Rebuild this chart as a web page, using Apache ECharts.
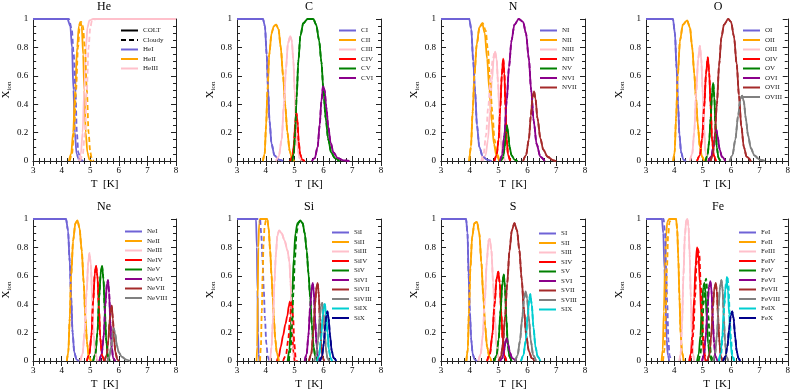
<!DOCTYPE html>
<html>
<head>
<meta charset="utf-8">
<script src="https://cdn.jsdelivr.net/npm/echarts@6/dist/echarts.min.js"></script>
<style>
  html, body { margin: 0; padding: 0; background: #fff; }
  #main { width: 793px; height: 391px; }
</style>
</head>
<body>
<div id="main"></div>
<script>
// 面板 / 离子名称
var elements = ['He', 'C', 'N', 'O', 'Ne', 'Si', 'S', 'Fe'];
var ionNames = [
    ['HeI', 'HeII', 'HeIII'],
    ['CI', 'CII', 'CIII', 'CIV', 'CV', 'CVI'],
    ['NI', 'NII', 'NIII', 'NIV', 'NV', 'NVI', 'NVII'],
    ['OI', 'OII', 'OIII', 'OIV', 'OV', 'OVI', 'OVII', 'OVIII'],
    ['NeI', 'NeII', 'NeIII', 'NeIV', 'NeV', 'NeVI', 'NeVII', 'NeVIII'],
    ['SiI', 'SiII', 'SiIII', 'SiIV', 'SiV', 'SiVI', 'SiVII', 'SiVIII', 'SiIX', 'SiX'],
    ['SI', 'SII', 'SIII', 'SIV', 'SV', 'SVI', 'SVII', 'SVIII', 'SIX'],
    ['FeI', 'FeII', 'FeIII', 'FeIV', 'FeV', 'FeVI', 'FeVII', 'FeVIII', 'FeIX', 'FeX']
];
var ionColors = ['#6f63d6', '#ffa500', '#ffc0cb', '#ff0000', '#008000', '#8b008b', '#a52a2a', '#808080', '#00ced1', '#00008b'];
var xTicks = [3, 4, 5, 6, 7, 8];
var yTicks = [0, 0.2, 0.4, 0.6, 0.8, 1];

// He  [log T, X_ion]
var heColt = [
    [[3,1],[4.2,1],[4.3,0.95],[4.36,0.8],[4.41,0.5],[4.46,0.2],[4.52,0.05],[4.6,0.01],[4.7,0]],
    [[4.25,0],[4.33,0.05],[4.4,0.2],[4.47,0.5],[4.54,0.8],[4.6,0.95],[4.65,0.98],[4.7,0.95],[4.75,0.75],[4.79,0.5],[4.84,0.2],[4.9,0.06],[4.97,0.01],[5.05,0]],
    [[4.6,0],[4.67,0.05],[4.73,0.2],[4.79,0.5],[4.85,0.8],[4.9,0.94],[4.97,0.99],[5.1,1],[8,1]]
];
var heCloudy = [
    [[3,1],[4.25,1],[4.35,0.93],[4.42,0.75],[4.48,0.5],[4.53,0.2],[4.58,0.06],[4.66,0.01],[4.75,0]],
    [[4.28,0],[4.36,0.05],[4.43,0.2],[4.5,0.5],[4.57,0.8],[4.63,0.95],[4.68,0.98],[4.74,0.95],[4.81,0.8],[4.88,0.5],[4.94,0.2],[5.0,0.06],[5.06,0.01],[5.12,0]],
    [[4.65,0],[4.74,0.05],[4.81,0.2],[4.88,0.5],[4.94,0.8],[5.0,0.94],[5.06,0.99],[5.2,1],[8,1]]
];

// C
var cColt = [
    [[3,1],[3.9,1],[3.97,0.95],[4.03,0.75],[4.08,0.5],[4.13,0.28],[4.2,0.12],[4.3,0.04],[4.45,0.01],[4.6,0]],
    [[3.9,0],[3.96,0.05],[4.01,0.25],[4.06,0.5],[4.12,0.75],[4.2,0.9],[4.28,0.95],[4.36,0.96],[4.44,0.93],[4.52,0.8],[4.6,0.6],[4.67,0.4],[4.75,0.2],[4.83,0.07],[4.92,0.01],[5.0,0]],
    [[4.35,0],[4.45,0.03],[4.55,0.15],[4.63,0.4],[4.7,0.65],[4.77,0.83],[4.85,0.88],[4.9,0.85],[4.96,0.7],[5.0,0.5],[5.05,0.28],[5.1,0.1],[5.17,0.02],[5.25,0]],
    [[4.85,0],[4.93,0.03],[4.98,0.12],[5.02,0.26],[5.06,0.34],[5.1,0.28],[5.14,0.14],[5.19,0.05],[5.26,0.01],[5.35,0]],
    [[4.92,0],[4.97,0.05],[5.02,0.2],[5.07,0.45],[5.13,0.7],[5.2,0.88],[5.3,0.97],[5.45,1],[5.65,1],[5.75,0.96],[5.85,0.85],[5.93,0.7],[6.0,0.5],[6.08,0.3],[6.17,0.15],[6.27,0.06],[6.4,0.02],[6.55,0]],
    [[5.6,0],[5.7,0.02],[5.8,0.1],[5.87,0.25],[5.93,0.42],[5.99,0.53],[6.04,0.5],[6.1,0.38],[6.17,0.24],[6.25,0.13],[6.35,0.06],[6.5,0.02],[6.7,0.005],[6.9,0]]
];
var cCloudy = cColt;

// N
var nColt = [
    [[3,1],[3.98,1],[4.05,0.93],[4.12,0.7],[4.18,0.5],[4.25,0.25],[4.33,0.1],[4.45,0.03],[4.6,0.01],[4.75,0]],
    [[3.98,0],[4.04,0.1],[4.1,0.35],[4.16,0.6],[4.24,0.82],[4.33,0.94],[4.43,0.97],[4.52,0.9],[4.6,0.72],[4.68,0.5],[4.76,0.28],[4.84,0.12],[4.92,0.04],[5.02,0]],
    [[4.45,0],[4.55,0.04],[4.63,0.15],[4.7,0.35],[4.77,0.57],[4.83,0.72],[4.88,0.77],[4.93,0.72],[4.98,0.55],[5.03,0.33],[5.08,0.14],[5.14,0.04],[5.22,0]],
    [[4.85,0],[4.93,0.04],[5.0,0.15],[5.06,0.38],[5.11,0.6],[5.16,0.72],[5.2,0.62],[5.24,0.38],[5.28,0.15],[5.33,0.04],[5.4,0]],
    [[5.08,0],[5.15,0.02],[5.2,0.08],[5.25,0.2],[5.29,0.25],[5.33,0.2],[5.38,0.1],[5.45,0.04],[5.55,0.01],[5.65,0]],
    [[5.05,0],[5.12,0.04],[5.2,0.18],[5.28,0.42],[5.36,0.66],[5.45,0.85],[5.55,0.96],[5.7,1],[5.85,0.98],[5.95,0.9],[6.05,0.72],[6.13,0.5],[6.22,0.28],[6.32,0.12],[6.45,0.03],[6.6,0]],
    [[5.85,0],[5.95,0.04],[6.05,0.15],[6.12,0.32],[6.18,0.45],[6.23,0.49],[6.28,0.44],[6.35,0.3],[6.45,0.16],[6.55,0.08],[6.7,0.03],[6.9,0.005],[7.0,0]]
];
var nCloudy = [
    nColt[0],
    [[3.98,0],[4.04,0.1],[4.1,0.35],[4.16,0.6],[4.24,0.82],[4.34,0.94],[4.45,0.97],[4.55,0.92],[4.63,0.78],[4.7,0.58],[4.78,0.35],[4.86,0.15],[4.94,0.05],[5.04,0]],
    [[4.4,0],[4.48,0.05],[4.56,0.18],[4.64,0.38],[4.72,0.58],[4.8,0.72],[4.87,0.77],[4.93,0.72],[4.98,0.55],[5.03,0.33],[5.08,0.14],[5.14,0.04],[5.22,0]],
    nColt[3], nColt[4], nColt[5], nColt[6]
];

// O
var oColt = [
    [[3,1],[3.95,1],[4.02,0.9],[4.08,0.65],[4.13,0.4],[4.18,0.18],[4.24,0.06],[4.32,0.01],[4.4,0]],
    [[3.96,0],[4.01,0.06],[4.06,0.3],[4.12,0.6],[4.2,0.85],[4.3,0.96],[4.45,0.99],[4.55,0.94],[4.63,0.8],[4.7,0.62],[4.76,0.45],[4.83,0.25],[4.9,0.1],[4.98,0.03],[5.05,0]],
    [[4.55,0],[4.63,0.05],[4.7,0.2],[4.77,0.48],[4.84,0.72],[4.9,0.81],[4.95,0.72],[5.0,0.48],[5.05,0.22],[5.1,0.06],[5.18,0]],
    [[4.8,0],[4.9,0.04],[4.98,0.16],[5.05,0.38],[5.12,0.62],[5.18,0.73],[5.23,0.62],[5.28,0.38],[5.33,0.15],[5.39,0.04],[5.47,0]],
    [[5.1,0],[5.17,0.04],[5.23,0.14],[5.28,0.3],[5.33,0.48],[5.37,0.55],[5.41,0.45],[5.45,0.25],[5.5,0.09],[5.56,0.02],[5.62,0]],
    [[5.2,0],[5.3,0.03],[5.38,0.1],[5.44,0.19],[5.48,0.22],[5.53,0.17],[5.6,0.08],[5.68,0.03],[5.8,0]],
    [[5.28,0],[5.35,0.04],[5.42,0.15],[5.5,0.4],[5.58,0.68],[5.66,0.87],[5.75,0.96],[5.9,1],[6.0,0.98],[6.1,0.88],[6.2,0.68],[6.28,0.46],[6.36,0.25],[6.45,0.1],[6.55,0.03],[6.7,0]],
    [[5.95,0],[6.05,0.04],[6.15,0.15],[6.25,0.32],[6.33,0.44],[6.39,0.46],[6.45,0.42],[6.52,0.3],[6.6,0.18],[6.7,0.09],[6.82,0.04],[7.0,0.01],[7.2,0]]
];
var oCloudy = oColt;

// Ne
var neColt = [
    [[3,1],[4.15,1],[4.22,0.92],[4.28,0.7],[4.33,0.45],[4.38,0.2],[4.44,0.06],[4.52,0.01],[4.6,0]],
    [[4.18,0],[4.23,0.06],[4.28,0.3],[4.33,0.6],[4.4,0.85],[4.48,0.97],[4.55,0.99],[4.62,0.94],[4.7,0.78],[4.77,0.55],[4.83,0.3],[4.89,0.12],[4.95,0.03],[5.02,0]],
    [[4.65,0],[4.73,0.05],[4.8,0.2],[4.87,0.48],[4.93,0.7],[4.97,0.76],[5.02,0.68],[5.07,0.42],[5.12,0.18],[5.18,0.05],[5.25,0]],
    [[4.88,0],[4.97,0.05],[5.04,0.18],[5.1,0.42],[5.16,0.62],[5.2,0.67],[5.25,0.6],[5.3,0.38],[5.35,0.16],[5.41,0.04],[5.48,0]],
    [[5.1,0],[5.18,0.05],[5.25,0.2],[5.31,0.45],[5.37,0.63],[5.41,0.67],[5.46,0.58],[5.51,0.35],[5.56,0.14],[5.62,0.03],[5.68,0]],
    [[5.32,0],[5.4,0.05],[5.47,0.18],[5.53,0.4],[5.58,0.54],[5.62,0.57],[5.66,0.48],[5.7,0.28],[5.75,0.1],[5.8,0.02],[5.87,0]],
    [[5.5,0],[5.57,0.04],[5.63,0.14],[5.68,0.29],[5.72,0.38],[5.75,0.39],[5.79,0.3],[5.83,0.16],[5.88,0.06],[5.95,0.01],[6.0,0]],
    [[5.6,0],[5.67,0.03],[5.73,0.1],[5.78,0.19],[5.82,0.23],[5.87,0.19],[5.93,0.11],[6.0,0.06],[6.1,0.03],[6.25,0.01],[6.4,0]]
];
var neCloudy = neColt;

// Si
var siColt = [
    [[3,1],[3.66,1],[3.69,0.8],[3.71,0.5],[3.73,0.2],[3.75,0.05],[3.78,0]],
    [[3.68,0],[3.7,0.1],[3.72,0.45],[3.74,0.8],[3.77,0.97],[3.8,1],[4.05,1],[4.1,0.93],[4.15,0.78],[4.2,0.6],[4.24,0.45],[4.28,0.3],[4.33,0.15],[4.38,0.06],[4.45,0]],
    [[4.15,0],[4.2,0.1],[4.25,0.3],[4.3,0.55],[4.35,0.75],[4.4,0.88],[4.46,0.92],[4.55,0.9],[4.65,0.85],[4.75,0.78],[4.82,0.7],[4.86,0.55],[4.9,0.3],[4.94,0.1],[4.98,0.02],[5.02,0]],
    [[4.38,0],[4.45,0.03],[4.52,0.1],[4.6,0.18],[4.68,0.26],[4.75,0.32],[4.8,0.39],[4.84,0.42],[4.88,0.36],[4.92,0.2],[4.96,0.06],[5.0,0]],
    [[4.76,0],[4.82,0.08],[4.87,0.25],[4.92,0.48],[4.97,0.72],[5.03,0.9],[5.1,0.97],[5.2,0.99],[5.28,0.97],[5.35,0.9],[5.42,0.78],[5.48,0.62],[5.54,0.45],[5.6,0.25],[5.66,0.1],[5.72,0.03],[5.8,0]],
    [[5.35,0],[5.42,0.05],[5.48,0.18],[5.54,0.38],[5.6,0.52],[5.63,0.55],[5.67,0.48],[5.71,0.3],[5.76,0.12],[5.81,0.03],[5.87,0]],
    [[5.5,0],[5.58,0.05],[5.65,0.2],[5.71,0.4],[5.76,0.52],[5.8,0.55],[5.84,0.47],[5.88,0.28],[5.93,0.1],[5.98,0.02],[6.03,0]],
    [[5.68,0],[5.75,0.04],[5.81,0.14],[5.87,0.3],[5.92,0.39],[5.96,0.41],[6.0,0.35],[6.04,0.21],[6.09,0.08],[6.14,0.02],[6.2,0]],
    [[5.78,0],[5.85,0.04],[5.91,0.14],[5.97,0.3],[6.02,0.39],[6.05,0.4],[6.09,0.34],[6.14,0.2],[6.19,0.08],[6.25,0.02],[6.3,0]],
    [[5.88,0],[5.95,0.03],[6.01,0.12],[6.07,0.26],[6.11,0.33],[6.14,0.35],[6.18,0.3],[6.23,0.18],[6.29,0.07],[6.36,0.02],[6.45,0]]
];
var siCloudy = [
    [[3,1],[3.8,1],[3.84,0.9],[3.89,0.7],[3.93,0.5],[3.97,0.3],[4.02,0.12],[4.07,0.03],[4.12,0]],
    [[3.8,0],[3.83,0.1],[3.86,0.35],[3.89,0.6],[3.92,0.82],[3.96,0.95],[4.0,0.99],[4.05,1],[4.1,0.93],[4.15,0.78],[4.2,0.6],[4.24,0.45],[4.28,0.3],[4.33,0.15],[4.38,0.06],[4.45,0]],
    siColt[2],
    [[4.6,0],[4.7,0.04],[4.78,0.15],[4.84,0.3],[4.88,0.4],[4.91,0.42],[4.95,0.3],[4.99,0.12],[5.04,0.02],[5.08,0]],
    [[4.8,0],[4.86,0.08],[4.91,0.25],[4.96,0.48],[5.01,0.72],[5.07,0.9],[5.13,0.97],[5.22,0.99],[5.28,0.97],[5.35,0.9],[5.42,0.78],[5.48,0.62],[5.54,0.45],[5.6,0.25],[5.66,0.1],[5.72,0.03],[5.8,0]],
    siColt[5], siColt[6], siColt[7], siColt[8], siColt[9]
];

// S
var sColt = [
    [[3,1],[3.87,1],[3.92,0.9],[3.96,0.6],[4.0,0.35],[4.05,0.15],[4.1,0.05],[4.17,0.01],[4.25,0]],
    [[3.88,0],[3.93,0.08],[3.97,0.35],[4.02,0.65],[4.08,0.87],[4.16,0.97],[4.25,0.98],[4.33,0.9],[4.4,0.7],[4.47,0.45],[4.53,0.25],[4.6,0.1],[4.68,0.03],[4.75,0]],
    [[4.3,0],[4.38,0.05],[4.45,0.18],[4.52,0.42],[4.59,0.7],[4.65,0.85],[4.69,0.86],[4.75,0.78],[4.81,0.55],[4.87,0.3],[4.93,0.1],[5.0,0.02],[5.05,0]],
    [[4.6,0],[4.7,0.05],[4.78,0.18],[4.86,0.4],[4.93,0.58],[4.99,0.63],[5.04,0.55],[5.09,0.35],[5.14,0.15],[5.2,0.04],[5.27,0]],
    [[4.85,0],[4.93,0.04],[5.0,0.15],[5.07,0.36],[5.13,0.55],[5.18,0.61],[5.22,0.52],[5.27,0.3],[5.32,0.11],[5.38,0.03],[5.45,0]],
    [[5.05,0],[5.13,0.02],[5.19,0.07],[5.24,0.14],[5.28,0.16],[5.33,0.12],[5.39,0.06],[5.47,0.02],[5.6,0]],
    [[5.0,0],[5.08,0.03],[5.15,0.12],[5.22,0.3],[5.3,0.55],[5.38,0.78],[5.46,0.92],[5.55,0.97],[5.64,0.92],[5.72,0.78],[5.8,0.58],[5.88,0.36],[5.96,0.18],[6.05,0.07],[6.15,0.02],[6.25,0]],
    [[5.58,0],[5.66,0.04],[5.74,0.14],[5.82,0.3],[5.88,0.44],[5.94,0.49],[5.99,0.44],[6.05,0.3],[6.12,0.14],[6.2,0.04],[6.3,0]],
    [[5.78,0],[5.86,0.04],[5.94,0.14],[6.01,0.32],[6.06,0.43],[6.1,0.47],[6.15,0.4],[6.21,0.24],[6.28,0.1],[6.36,0.03],[6.45,0]]
];
var sCloudy = sColt;

// Fe
var feColt = [
    [[3,1],[3.56,1],[3.61,0.9],[3.65,0.65],[3.69,0.4],[3.73,0.15],[3.77,0.04],[3.82,0]],
    [[3.55,0],[3.59,0.08],[3.63,0.35],[3.67,0.65],[3.71,0.88],[3.75,0.98],[3.82,1],[4.06,1],[4.1,0.93],[4.14,0.72],[4.18,0.45],[4.22,0.2],[4.27,0.06],[4.33,0]],
    [[4.18,0],[4.22,0.05],[4.27,0.25],[4.32,0.6],[4.37,0.88],[4.42,0.99],[4.46,1],[4.5,0.95],[4.54,0.75],[4.58,0.45],[4.62,0.18],[4.66,0.05],[4.7,0]],
    [[4.52,0],[4.58,0.05],[4.64,0.2],[4.7,0.45],[4.75,0.68],[4.8,0.8],[4.85,0.75],[4.9,0.55],[4.95,0.32],[5.0,0.14],[5.05,0.04],[5.1,0]],
    [[4.8,0],[4.86,0.05],[4.92,0.18],[4.97,0.38],[5.02,0.52],[5.06,0.55],[5.1,0.48],[5.14,0.3],[5.19,0.12],[5.25,0.03],[5.32,0]],
    [[4.98,0],[5.05,0.05],[5.11,0.18],[5.17,0.38],[5.22,0.52],[5.27,0.56],[5.31,0.5],[5.35,0.32],[5.4,0.13],[5.45,0.03],[5.52,0]],
    [[5.17,0],[5.24,0.05],[5.3,0.18],[5.36,0.38],[5.41,0.51],[5.46,0.55],[5.5,0.49],[5.54,0.32],[5.59,0.13],[5.64,0.03],[5.7,0]],
    [[5.37,0],[5.44,0.05],[5.5,0.18],[5.56,0.38],[5.61,0.52],[5.66,0.57],[5.7,0.51],[5.74,0.33],[5.79,0.13],[5.84,0.03],[5.9,0]],
    [[5.56,0],[5.63,0.05],[5.69,0.18],[5.75,0.38],[5.8,0.51],[5.85,0.56],[5.89,0.5],[5.93,0.33],[5.98,0.14],[6.03,0.04],[6.1,0]],
    [[5.72,0],[5.8,0.03],[5.87,0.1],[5.93,0.22],[5.99,0.32],[6.04,0.35],[6.09,0.3],[6.14,0.18],[6.2,0.07],[6.26,0.02],[6.32,0]]
];
var feCloudy = [
    [[3,1],[3.62,1],[3.67,0.9],[3.71,0.65],[3.75,0.4],[3.79,0.15],[3.83,0.04],[3.88,0]],
    [[3.6,0],[3.65,0.08],[3.7,0.35],[3.74,0.65],[3.78,0.88],[3.83,0.98],[3.9,1],[4.06,1],[4.1,0.93],[4.14,0.72],[4.18,0.45],[4.22,0.2],[4.27,0.06],[4.33,0]],
    feColt[2],
    [[4.55,0],[4.61,0.05],[4.67,0.2],[4.73,0.45],[4.78,0.68],[4.83,0.79],[4.88,0.75],[4.93,0.55],[4.98,0.32],[5.03,0.14],[5.08,0.04],[5.13,0]],
    [[4.86,0],[4.92,0.05],[4.98,0.18],[5.03,0.4],[5.08,0.55],[5.12,0.58],[5.16,0.5],[5.2,0.32],[5.25,0.13],[5.3,0.03],[5.37,0]],
    feColt[5], feColt[6], feColt[7],
    [[5.58,0],[5.65,0.05],[5.71,0.18],[5.77,0.4],[5.82,0.55],[5.87,0.6],[5.91,0.53],[5.95,0.35],[6.0,0.15],[6.05,0.04],[6.12,0]],
    feColt[9]
];

var coltCurves = [heColt, cColt, nColt, oColt, neColt, siColt, sColt, feColt];
var cloudyCurves = [heCloudy, cCloudy, nCloudy, oCloudy, neCloudy, siCloudy, sCloudy, feCloudy];

// 布局
var gridLeft = [32, 237, 441, 646];
var gridTop = [19, 219];
var gridH = [142, 143];
var legendPos = [[120, 27], [338, 27], [539, 27], [742, 27], [124, 228], [331, 229], [538, 230], [738, 229]];
var FONT = 'Liberation Serif';

var myChart = echarts.init(document.getElementById('main'), null, {renderer: 'canvas'});

var grids = [], xAxes = [], yAxes = [], titles = [], legends = [], series = [];

for (var g = 0; g < 8; g++) {
    var row = g < 4 ? 0 : 1;
    var left = gridLeft[g % 4];
    grids.push({left: left, top: gridTop[row], width: 144, height: gridH[row]});

    titles.push({
        text: elements[g],
        left: left + 72,
        top: gridTop[row] - 18,
        textAlign: 'center',
        padding: 0,
        textStyle: {fontFamily: FONT, fontSize: 12, fontWeight: 'normal', color: '#000'}
    });

    var lineCfg = {show: true, lineStyle: {color: '#222', width: 1}};
    var xBase = {
        type: 'value', gridIndex: g, min: 3, max: 8, interval: 1,
        axisLine: lineCfg,
        axisTick: {inside: true, length: 5, lineStyle: {color: '#222'}},
        minorTick: {show: true, splitNumber: 5, length: 3, lineStyle: {color: '#222'}},
        splitLine: {show: false}
    };
    // 底部x轴
    xAxes.push(Object.assign({}, xBase, {
        position: 'bottom',
        name: 'T  [K]', nameLocation: 'middle', nameGap: 18,
        nameTextStyle: {fontFamily: FONT, fontSize: 11, color: '#000'},
        axisLabel: {fontFamily: FONT, fontSize: 9, color: '#000', margin: 5,
            formatter: function (v) { return xTicks.indexOf(v) >= 0 ? String(v) : ''; }}
    }));
    // 顶部镜像
    xAxes.push(Object.assign({}, xBase, {position: 'top', axisLabel: {show: false}}));

    var yBase = {
        type: 'value', gridIndex: g, min: 0, max: 1, interval: 0.2,
        axisLine: lineCfg,
        axisTick: {inside: true, length: 5, lineStyle: {color: '#222'}},
        minorTick: {show: true, splitNumber: 4, length: 3, lineStyle: {color: '#222'}},
        splitLine: {show: false}
    };
    yAxes.push(Object.assign({}, yBase, {
        position: 'left',
        name: 'X{s|ion}', nameLocation: 'middle', nameGap: 20, nameRotate: 90,
        nameTextStyle: {fontFamily: FONT, fontSize: 11, color: '#000',
            rich: {s: {fontFamily: FONT, fontSize: 7, color: '#000', padding: [6, 0, 0, 0]}}},
        axisLabel: {fontFamily: FONT, fontSize: 9, color: '#000', margin: 5,
            formatter: function (v) {
                for (var i = 0; i < yTicks.length; i++) {
                    if (Math.abs(yTicks[i] - v) < 1e-6) return String(yTicks[i]);
                }
                return '';
            }}
    }));
    yAxes.push(Object.assign({}, yBase, {position: 'right', axisLabel: {show: false}}));

    var names = ionNames[g];
    var legendData = names.slice();
    if (g === 0) {
        legendData = ['COLT', 'Cloudy'].concat(names);
        series.push({name: 'COLT', type: 'line', xAxisIndex: 0, yAxisIndex: 0, data: [],
            symbol: 'none', lineStyle: {color: '#000', width: 2}, itemStyle: {color: '#000'}});
        series.push({name: 'Cloudy', type: 'line', xAxisIndex: 0, yAxisIndex: 0, data: [],
            symbol: 'none', lineStyle: {color: '#000', width: 2, type: [5, 3]}, itemStyle: {color: '#000'}});
    }
    legends.push({
        orient: 'vertical', left: legendPos[g][0], top: legendPos[g][1],
        padding: 0, itemWidth: 17, itemHeight: 7, itemGap: 2.5,
        selectedMode: false,
        // 图例只画线，不画圆点
        itemStyle: {opacity: 0, borderWidth: 0},
        lineStyle: {width: 2},
        textStyle: {fontFamily: FONT, fontSize: 7, color: '#222', lineHeight: 7},
        data: legendData
    });

    // COLT 实线
    for (var k = 0; k < names.length; k++) {
        series.push({
            name: names[k], type: 'line', xAxisIndex: 2 * g, yAxisIndex: 2 * g,
            data: coltCurves[g][k], symbol: 'none', smooth: 0.3, smoothMonotone: 'x',
            lineStyle: {color: ionColors[k], width: 1.8}, itemStyle: {color: ionColors[k]},
            z: 2
        });
    }
    // Cloudy 虚线
    for (var k2 = 0; k2 < names.length; k2++) {
        series.push({
            name: names[k2], type: 'line', xAxisIndex: 2 * g, yAxisIndex: 2 * g,
            data: cloudyCurves[g][k2], symbol: 'none', smooth: 0.3, smoothMonotone: 'x',
            lineStyle: {color: ionColors[k2], width: 1.8, type: [5, 3]}, itemStyle: {color: ionColors[k2]},
            z: 3
        });
    }
}

var option = {
    animation: false,
    backgroundColor: '#fff',
    title: titles,
    grid: grids,
    xAxis: xAxes,
    yAxis: yAxes,
    legend: legends,
    series: series
};
myChart.setOption(option);
</script>
</body>
</html>
